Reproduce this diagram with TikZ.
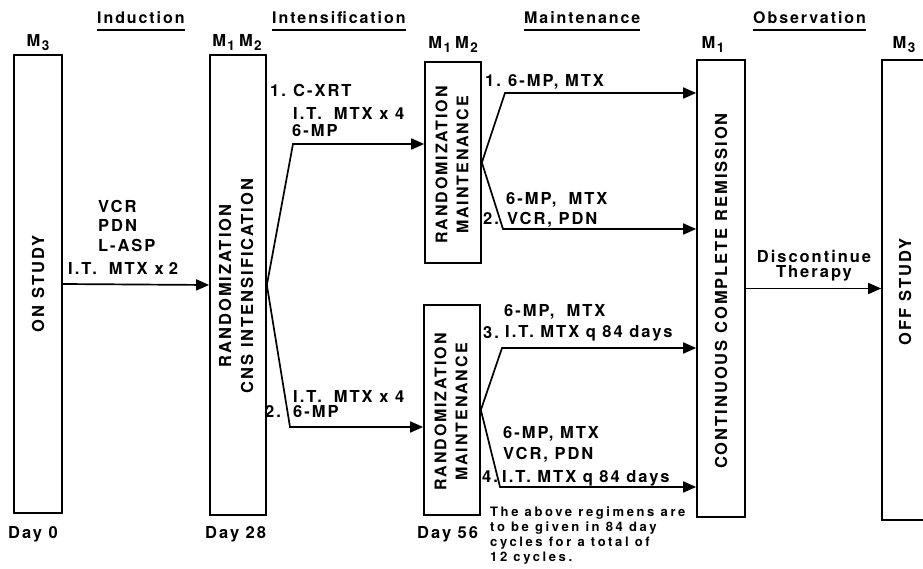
\documentclass[tikz,border=0pt]{standalone}
\usepackage{fontspec}
\setmainfont{TeX Gyre Heros}
\newfontfamily\lblfont{TeX Gyre Heros}[LetterSpace=12]
\newfontfamily\headfont{TeX Gyre Heros}[LetterSpace=12]
\newfontfamily\notefont{TeX Gyre Heros}[LetterSpace=20]
\usetikzlibrary{arrows.meta}
\newcommand{\Msub}[1]{M\kern1.5pt\raisebox{-3.5pt}{\fontsize{13.5}{13.5}\selectfont #1}}
\newcommand{\gap}{\hspace{12pt}}
\tikzset{
  box/.style={draw, line width=1.7pt, inner sep=0pt},
  boxtxt/.style={rotate=90, inner sep=0pt, align=center, font={\fontsize{16.5}{22}\lblfont\bfseries}},
  lbl/.style={anchor=base west, inner sep=0pt, font={\fontsize{16.5}{20}\lblfont\bfseries}},
  mlbl/.style={anchor=base, inner sep=0pt, font={\fontsize{16.5}{18}\lblfont\bfseries}},
  head/.style={anchor=base west, inner sep=0pt, font={\fontsize{16}{18}\headfont\bfseries}},
  note/.style={anchor=north west, inner sep=0pt, align=left, font={\fontsize{13}{15}\notefont\bfseries}},
  arr/.style={line width=1.7pt, -{Triangle[length=13pt,width=11pt]}},
  uline/.style={line width=1.5pt}
}
\begin{document}
\begin{tikzpicture}[x=1pt,y=-1pt]
\useasboundingbox (0,0) rectangle (923,569);
\clip (0,0) rectangle (923,569);
\fill[white] (0,0) rectangle (923,569);

% headings
\node[head] (h1) at (97,24) {Induction};
\node[head] (h2) at (272,24) {Intensification};
\node[head] (h3) at (524,24) {Maintenance};
\node[head] (h4) at (753,24) {Observation};
\foreach \h in {h1,h2,h3,h4}
  \draw[uline] ([yshift=-6pt]\h.base west) -- ([yshift=-6pt]\h.base east);

% M labels
\node[mlbl] (m1) at (38,47) {\Msub{3}};
\node[mlbl] (m2) at (237,47) {\Msub{1}\kern4pt\Msub{2}};
\node[mlbl] (m3) at (453,49) {\Msub{1}\kern4pt\Msub{2}};
\node[mlbl] (m4) at (713,49) {\Msub{1}};
\node[mlbl] (m5) at (904,49) {\Msub{3}};

% boxes
\node[box, minimum width=48pt, minimum height=458pt] (b1) at (38,284) {};
\node[box, minimum width=56pt, minimum height=460pt] (b2) at (238,285) {};
\node[box, minimum width=56pt, minimum height=201pt] (b3a) at (453,162.5) {};
\node[box, minimum width=56pt, minimum height=210pt] (b3b) at (452,410) {};
\node[box, minimum width=48pt, minimum height=457pt] (b4) at (721,288.5) {};
\node[box, minimum width=46pt, minimum height=460pt] (b5) at (905,290) {};

% box texts
\node[boxtxt] (t1) at (b1.center) {ON STUDY};
\node[boxtxt] (t2) at (236,286) {RANDOMIZATION\\CNS INTENSIFICATION};
\node[boxtxt, font={\fontsize{16}{21}\lblfont\bfseries}] (t3a) at (452,165) {RANDOMIZATION\\MAINTENANCE};
\node[boxtxt, font={\fontsize{16}{21}\lblfont\bfseries}] (t3b) at (451,412) {RANDOMIZATION\\MAINTENANCE};
\node[boxtxt] (t4) at (721,291) {CONTINUOUS COMPLETE REMISSION};
\node[boxtxt] (t5) at (905,292) {OFF STUDY};

% induction
\draw[arr] (b1.east) -- (b2.west);
\node[lbl] (i1) at (98,213) {VCR};
\node[lbl] (i2) at (98,232) {PDN};
\node[lbl] (i3) at (98,252) {L-ASP};
\node[lbl] (i4) at (68,274) {I.T.\gap MTX\hspace{7pt}x\hspace{5pt}2};

% intensification
\coordinate (c1) at (293,144);
\coordinate (c2) at (290,427);
\draw[arr] (b2.east) -- (c1) -- (c1 -| b3a.west);
\draw[arr] (b2.east) -- (c2) -- (c2 -| b3b.west);
\node[lbl] (n1) at (270,97) {1.};
\node[lbl] (x1) at (293,97) {C-XRT};
\node[lbl] (x2) at (293,120) {I.T.\gap MTX x 4};
\node[lbl] (x3) at (292,137) {6-MP};
\node[lbl] (x4) at (293,402) {I.T.\gap MTX x 4};
\node[lbl] (n2) at (265,417) {2.};
\node[lbl] (x5) at (293,417) {6-MP};

% maintenance
\coordinate (c3) at (505,93);
\coordinate (c4) at (503,229);
\coordinate (c5) at (502,348);
\coordinate (c6) at (500,487);
\draw[arr] (b3a.east) -- (c3) -- (c3 -| b4.west);
\draw[arr] (b3a.east) -- (c4) -- (c4 -| b4.west);
\draw[arr] (b3b.east) -- (c5) -- (c5 -| b4.west);
\draw[arr] (b3b.east) -- (c6) -- (c6 -| b4.west);
\node[lbl] (n3) at (485,87) {1.};
\node[lbl] (y1) at (508,87) {6-MP, MTX};
\node[lbl] (y2) at (506,205) {6-MP,\gap MTX};
\node[lbl] (n4) at (483,225) {2.};
\node[lbl] (y3) at (507,225) {VCR, PDN};
\node[lbl] (y4) at (504,316) {6-MP,\gap MTX};
\node[lbl] (n5) at (483,338) {3.};
\node[lbl] (y5) at (505,337) {I.T. MTX q 84 days};
\node[lbl] (y6) at (503,438) {6-MP, MTX};
\node[lbl] (y7) at (503,459) {VCR, PDN};
\node[lbl] (n6) at (482,482) {4.};
\node[lbl] (y8) at (502,482) {I.T. MTX q 84 days};

% observation
\draw[arr] (b4.east) -- (b4.east -| b5.west);
\node[mlbl] (d1) at (814,262) {Discontinue};
\node[mlbl] (d2) at (814,277) {Therapy};

% days
\node[lbl] (day0) at (8,538) {Day 0};
\node[lbl] (day28) at (205,538) {Day 28};
\node[lbl] (day56) at (417,538) {Day 56};

% note
\node[note] (nt) at (490,507) {The above regimens are\\to be given in 84 day\\cycles for a total of\\12 cycles.};
\end{tikzpicture}
\end{document}
